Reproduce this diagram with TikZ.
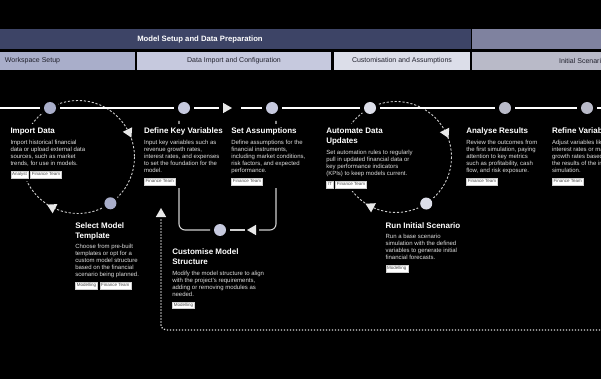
\documentclass[tikz,border=0pt]{standalone}
\usepackage{fontspec}
\setmainfont{Liberation Sans}
\usetikzlibrary{shapes.geometric,calc,fit}
\pgfdeclarelayer{back}
\pgfdeclarelayer{lines}
\pgfdeclarelayer{cover}
\pgfsetlayers{back,lines,cover,main}
\definecolor{navy}{HTML}{3D4466}
\definecolor{navylt}{HTML}{7F829F}
\definecolor{phA}{HTML}{A9AECA}
\definecolor{phB}{HTML}{C6C9DE}
\definecolor{phC}{HTML}{DCDEE9}
\definecolor{phD}{HTML}{B9BAC8}
\definecolor{bodygray}{HTML}{DEDEDE}
\definecolor{linegray}{HTML}{CFCFCF}
\definecolor{taggray}{HTML}{4A4A4A}
\definecolor{arrowgray}{HTML}{E8E8E8}
\definecolor{hdrtext}{HTML}{22222E}
\tikzset{
  ttl/.style={anchor=north west, inner sep=0pt, outer sep=0pt, align=left, text=white, font=\fontsize{8}{10}\selectfont\bfseries},
  bdy/.style={anchor=north west, inner sep=0pt, outer sep=0pt, align=left, text=bodygray, font=\fontsize{6}{7}\selectfont},
  tagbox/.style={anchor=north west, fill=white, draw=linegray, line width=0.3pt, inner xsep=1.4pt, inner ysep=1pt, text=taggray, font=\fontsize{4.5}{5}\selectfont, text height=3.4pt, text depth=1pt},
  stepdot/.style={circle, fill=#1, minimum size=12pt, inner sep=0pt, outer sep=4pt, preaction={draw=black, line width=6pt}},
  arrowtri/.style={regular polygon, regular polygon sides=3, fill=arrowgray, minimum size=12pt, inner sep=0pt, outer sep=0pt},
  mainline/.style={white, line width=1.1pt},
  bracket/.style={linegray, line width=1.1pt},
  loopline/.style={linegray, line width=0.9pt, dash pattern=on 2.2pt off 1.8pt},
  dotline/.style={bodygray, line width=1.3pt, dash pattern=on 1.2pt off 1.8pt},
  blockcover/.style={fill=black, draw=none, inner sep=3pt},
  hdrbar/.style={inner sep=0pt, outer sep=0pt, minimum height=17.7pt, text=hdrtext, font=\fontsize{7}{8}\selectfont}
}
\begin{document}
\begin{tikzpicture}[x=1pt,y=-1pt]
\useasboundingbox (0,0) rectangle (601,379);
\begin{pgfonlayer}{back}
\fill[black] (0,0) rectangle (601,379);
\end{pgfonlayer}
\clip (0,0) rectangle (601,379);

% header
\node[hdrbar, fill=navy, minimum width=542pt, minimum height=19.7pt, text=white, font=\fontsize{7.7}{9}\selectfont\bfseries] (hTop) at (200,39.15) {Model Setup and Data Preparation};
\node[hdrbar, fill=navylt, minimum width=240pt, minimum height=19.7pt, anchor=west] (hTopB) at (472,39.15) {};
\node[hdrbar, fill=phA, minimum width=205pt] (pA) at (32.5,61.15) {Workspace Setup};
\node[hdrbar, fill=phB, minimum width=194pt] (pB) at (234,61.15) {Data Import and Configuration};
\node[hdrbar, fill=phC, minimum width=136pt] (pC) at (402,61.15) {Customisation and Assumptions};
\node[hdrbar, fill=phD, minimum width=220pt] (pD) at (582,61.15) {Initial Scenario};

% coordinates
\coordinate (lc1) at (78,157);
\coordinate (lc2) at (396,157);
\coordinate (Lend) at (0,108);
\coordinate (Rend) at (606,108);
\coordinate (dkvIn) at (179,121);
\coordinate (saIn) at (276,121);
\coordinate (dotR) at (606,330);

% step circles
\node[stepdot=phA] (c1) at (50,108) {};
\node[stepdot=phB] (c2) at (184,108) {};
\node[stepdot=phB] (c3) at (272,108) {};
\node[stepdot=phC] (c4) at (370,108) {};
\node[stepdot=phD] (c5) at (505,108) {};
\node[stepdot=phD] (c6) at (587,108) {};
\node[stepdot=phA] (c1b) at ($(lc1)+(55:56.5)$) {};
\node[stepdot=phC] (c4b) at ($(lc2)+(57:55.5)$) {};
\node[stepdot=phB] (cms) at (220,230) {};

% arrow heads
\node[arrowtri, rotate=-90] (a1) at (226,108) {};
\node[arrowtri, rotate=-154] (la1) at ($(lc1)+(-26:56.5)$) {};
\node[arrowtri, rotate=63] (la2) at ($(lc1)+(117:56.5)$) {};
\node[arrowtri, rotate=-154] (lb1) at ($(lc2)+(-26:55.5)$) {};
\node[arrowtri, rotate=63] (lb2) at ($(lc2)+(117:55.5)$) {};
\node[arrowtri, rotate=90] (a2) at (253,230) {};
\node[arrowtri] (a3) at (161,214) {};

% main line
\draw[mainline] (Lend) -- (c1);
\draw[mainline] (c1) -- (c2);
\draw[mainline, shorten >=4pt] (c2) -- (a1);
\draw[mainline, shorten <=9pt] (a1) -- (c3);
\draw[mainline] (c3) -- (c4);
\draw[mainline] (c4) -- (c5);
\draw[mainline] (c5) -- (c6);
\draw[mainline] (c6) -- (Rend);

% dotted return line
\draw[dotline, rounded corners=5pt, shorten >=1pt] (dotR) -| (a3);

% text blocks
\node[ttl] (impT) at (10.5,127) {\strut Import Data};
\node[bdy] (impB) at ([yshift=-2.5pt]impT.south west) {\strut Import historical financial\\\strut data or upload external data\\\strut sources, such as market\\\strut trends, for use in models.};
\node[tagbox] (impG1) at ([yshift=-3.7pt]impB.south west) {Analyst};
\node[tagbox] (impG2) at ([xshift=2pt]impG1.north east) {Finance Team};

\node[ttl] (smtT) at (75.3,221) {\strut Select Model\\\strut Template};
\node[bdy] (smtB) at ([yshift=-2.5pt]smtT.south west) {\strut Choose from pre-built\\\strut templates or opt for a\\\strut custom model structure\\\strut based on the financial\\\strut scenario being planned.};
\node[tagbox] (smtG1) at ([yshift=-3.7pt]smtB.south west) {Modelling};
\node[tagbox] (smtG2) at ([xshift=2pt]smtG1.north east) {Finance Team};

\node[ttl] (dkvT) at (144,127) {\strut Define Key Variables};
\node[bdy] (dkvB) at ([yshift=-2.5pt]dkvT.south west) {\strut Input key variables such as\\\strut revenue growth rates,\\\strut interest rates, and expenses\\\strut to set the foundation for the\\\strut model.};
\node[tagbox] (dkvG1) at ([yshift=-3.7pt]dkvB.south west) {Finance Team};

\node[ttl] (saT) at (231.3,127) {\strut Set Assumptions};
\node[bdy] (saB) at ([yshift=-2.5pt]saT.south west) {\strut Define assumptions for the\\\strut financial instruments,\\\strut including market conditions,\\\strut risk factors, and expected\\\strut performance.};
\node[tagbox] (saG1) at ([yshift=-3.7pt]saB.south west) {Finance Team};

\node[ttl] (cmsT) at (172.3,247.6) {\strut Customise Model\\\strut Structure};
\node[bdy] (cmsB) at ([yshift=-2.5pt]cmsT.south west) {\strut Modify the model structure to align\\\strut with the project's requirements,\\\strut adding or removing modules as\\\strut needed.};
\node[tagbox] (cmsG1) at ([yshift=-3.7pt]cmsB.south west) {Modelling};

\node[ttl] (adT) at (326.3,127) {\strut Automate Data\\\strut Updates};
\node[bdy] (adB) at ([yshift=-2.5pt]adT.south west) {\strut Set automation rules to regularly\\\strut pull in updated financial data or\\\strut key performance indicators\\\strut (KPIs) to keep models current.};
\node[tagbox] (adG1) at ([yshift=-3.7pt]adB.south west) {IT};
\node[tagbox] (adG2) at ([xshift=2pt]adG1.north east) {Finance Team};

\node[ttl] (risT) at (385.6,221) {\strut Run Initial Scenario};
\node[bdy] (risB) at ([yshift=-2.5pt]risT.south west) {\strut Run a base scenario\\\strut simulation with the defined\\\strut variables to generate initial\\\strut financial forecasts.};
\node[tagbox] (risG1) at ([yshift=-3.7pt]risB.south west) {Modelling};

\node[ttl] (arT) at (466.3,127) {\strut Analyse Results};
\node[bdy] (arB) at ([yshift=-2.5pt]arT.south west) {\strut Review the outcomes from\\\strut the first simulation, paying\\\strut attention to key metrics\\\strut such as profitability, cash\\\strut flow, and risk exposure.};
\node[tagbox] (arG1) at ([yshift=-3.7pt]arB.south west) {Finance Team};

\node[ttl] (rvT) at (552,127) {\strut Refine Variables};
\node[bdy] (rvB) at ([yshift=-2.5pt]rvT.south west) {\strut Adjust variables like\\\strut interest rates or market\\\strut growth rates based on\\\strut the results of the initial\\\strut simulation.};
\node[tagbox] (rvG1) at ([yshift=-3.7pt]rvB.south west) {Finance Team};

% lines behind the text blocks
\begin{pgfonlayer}{lines}
\draw[loopline] (lc1) circle[radius=56.5];
\draw[loopline] (lc2) circle[radius=55.5];
\draw[bracket, rounded corners=6pt, shorten >=3pt] (saIn) |- (a2);
\draw[bracket, shorten <=2pt] (a2) -- (cms);
\draw[bracket, rounded corners=6pt] (cms) -| (dkvIn);
\end{pgfonlayer}

% black covers of the text blocks
\begin{pgfonlayer}{cover}
\node[blockcover, fit=(impT)(impB)(impG1)(impG2)] (impK) {};
\node[blockcover, fit=(smtT)(smtB)(smtG1)(smtG2)] (smtK) {};
\node[blockcover, fit=(dkvT)(dkvB)(dkvG1)] (dkvK) {};
\node[blockcover, fit=(saT)(saB)(saG1)] (saK) {};
\node[blockcover, fit=(cmsT)(cmsB)(cmsG1)] (cmsK) {};
\node[blockcover, fit=(adT)(adB)(adG1)(adG2)] (adK) {};
\node[blockcover, fit=(risT)(risB)(risG1)] (risK) {};
\node[blockcover, fit=(arT)(arB)(arG1)] (arK) {};
\node[blockcover, fit=(rvT)(rvB)(rvG1)] (rvK) {};
\end{pgfonlayer}
\end{tikzpicture}
\end{document}
